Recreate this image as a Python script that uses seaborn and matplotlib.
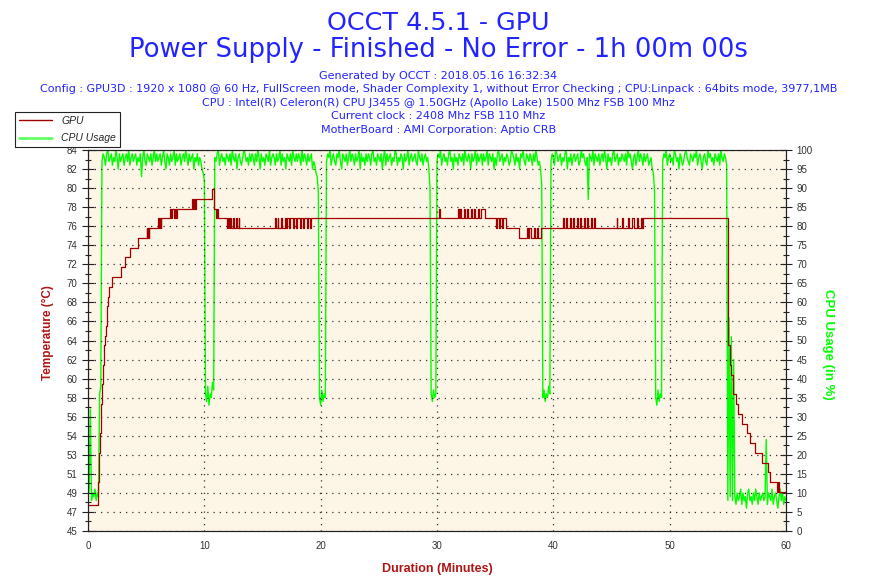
import numpy as np
import matplotlib
matplotlib.use("Agg")
import matplotlib.pyplot as plt
import seaborn as sns
from matplotlib.ticker import FixedLocator, MultipleLocator
from matplotlib.lines import Line2D

# ---------------- text ----------------
title_main = "OCCT 4.5.1 - GPU"
title_sub = "Power Supply - Finished - No Error - 1h 00m 00s"
info_lines = [
    "Generated by OCCT : 2018.05.16 16:32:34",
    "Config : GPU3D : 1920 x 1080 @ 60 Hz, FullScreen mode, Shader Complexity 1, without Error Checking ; CPU:Linpack : 64bits mode, 3977,1MB",
    "CPU : Intel(R) Celeron(R) CPU J3455 @ 1.50GHz (Apollo Lake) 1500 Mhz FSB 100 Mhz",
    "Current clock : 2408 Mhz FSB 110 Mhz",
    "MotherBoard : AMI Corporation: Aptio CRB",
]
series_names = ["GPU", "CPU Usage"]
x_label = "Duration (Minutes)"
left_label = "Temperature (°C)"
right_label = "CPU Usage (in %)"

# tick labels
x_ticks = [0, 10, 20, 30, 40, 50, 60]
temp_tick_labels = ["45", "47", "49", "51", "53", "54", "56", "58", "60", "62", "64",
                    "66", "68", "70", "72", "74", "76", "78", "80", "82", "84"]
cpu_ticks = [0, 5, 10, 15, 20, 25, 30, 35, 40, 45, 50, 55, 60, 65, 70, 75, 80, 85, 90, 95, 100]

# ---------------- data ----------------
# GPU temperature (step series: minute, degC)
gpu_minutes = [0.0, 0.85, 0.92, 1.0, 1.08, 1.16, 1.23, 1.3, 1.38, 1.45, 1.52, 1.6, 1.66, 1.73, 1.8,
               2.09, 2.81, 3.18, 3.61, 4.33,
               5.04, 5.1, 5.17, 5.22, 5.28,
               6.05, 6.12, 6.2, 6.26, 6.3,
               7.05, 7.15, 7.25, 7.35, 7.45, 7.55, 7.65,
               8.91, 9.0, 9.1, 9.2, 9.28,
               10.63, 10.84, 11.0, 11.1, 11.2,
               11.92, 12.0, 12.1, 12.2, 12.3, 12.45, 12.55, 12.7, 12.8, 12.95, 13.0,
               16.07, 16.12, 16.3, 16.35, 16.6, 16.7, 16.9, 17.0, 17.1, 17.3, 17.4, 17.6, 17.7,
               17.9, 18.0, 18.2, 18.3, 18.5, 18.6, 18.8, 18.9, 19.1, 19.2,
               30.2, 30.26,
               31.83, 31.9, 32.0, 32.1, 32.3, 32.4, 32.6, 32.7, 32.9, 33.0, 33.2, 33.3, 33.5,
               33.6, 33.8, 34.1,
               35.07, 35.15, 35.3, 35.4, 35.6, 35.7, 35.9,
               37.07,
               37.71, 37.8, 37.95, 38.1, 38.3, 38.4, 38.6, 38.7, 38.9,
               40.85, 40.95, 41.1, 41.2, 41.4, 41.5, 41.7, 41.8, 42.0, 42.1, 42.3, 42.4, 42.6,
               42.7, 42.9, 43.0, 43.2, 43.3, 43.5, 43.6,
               45.44, 45.5, 45.9, 45.95, 46.4, 46.5, 46.8, 46.9, 47.2, 47.3, 47.5, 47.6, 47.73,
               55.03, 55.15, 55.3, 55.47, 55.67, 55.85, 56.19, 56.62, 56.9, 57.33, 57.91,
               58.43, 58.63, 59.2, 59.3, 59.4, 60.0]
gpu_temp = [47.7, 50, 53, 55, 57, 58, 60, 62, 64, 65, 66, 67, 68, 69, 70,
            71, 72, 73, 74, 75,
            76, 75, 76, 75, 76,
            77, 76, 77, 76, 77,
            78, 77, 78, 77, 78, 77, 78,
            79, 78, 79, 78, 79,
            80, 78, 77, 78, 77,
            76, 77, 76, 77, 76, 77, 76, 77, 76, 77, 76,
            77, 76, 77, 76, 77, 76, 77, 76, 77, 76, 77, 76, 77,
            76, 77, 76, 77, 76, 77, 76, 77, 76, 77,
            78, 77,
            78, 77, 78, 77, 78, 77, 78, 77, 78, 77, 78, 77, 78,
            77, 78, 77,
            76, 77, 76, 77, 76, 77, 76,
            75,
            76, 75, 76, 75, 76, 75, 76, 75, 76,
            77, 76, 77, 76, 77, 76, 77, 76, 77, 76, 77, 76, 77,
            76, 77, 76, 77, 76, 77, 76,
            77, 76, 77, 76, 77, 76, 77, 76, 77, 76, 77, 76, 77,
            64, 62, 61, 59, 58, 57, 56, 55, 54, 53, 52,
            51, 50, 49, 50, 49, 49]

# CPU usage (%), one reading every 0.1 minute from 0 to 60 (one row = 2 minutes)
cpu_step_minutes = 0.1
cpu_usage = [
    9, 11, 32, 8, 10, 9, 11, 8, 10, 9, 36, 38, 97, 99, 98, 96, 99, 100, 97, 98,
    99, 96, 98, 97, 100, 98, 95, 99, 97, 98, 99, 96, 98, 99, 97, 100, 96, 98, 99, 97,
    98, 99, 96, 98, 97, 99, 93, 98, 100, 97, 96, 99, 98, 97, 99, 96, 98, 100, 97, 99,
    97, 98, 99, 96, 98, 100, 97, 95, 99, 98, 96, 99, 97, 98, 100, 96, 99, 97, 98, 99,
    96, 98, 99, 97, 100, 98, 96, 99, 97, 98, 99, 95, 98, 97, 99, 96, 98, 97, 95, 94,
    92, 36, 34, 38, 33, 36, 35, 39, 37, 98, 97, 99, 100, 96, 98, 99, 97, 98, 96, 99,
    98, 97, 99, 96, 100, 98, 97, 99, 95, 98, 99, 97, 96, 98, 100, 99, 97, 98, 96, 99,
    97, 99, 98, 96, 99, 97, 100, 98, 95, 99, 97, 98, 96, 99, 98, 97, 100, 96, 98, 99,
    98, 96, 99, 97, 98, 100, 96, 99, 97, 98, 95, 99, 98, 97, 99, 96, 100, 98, 97, 99,
    97, 99, 98, 96, 100, 97, 99, 98, 96, 99, 97, 98, 99, 95, 97, 96, 94, 93, 89, 35,
    33, 37, 34, 36, 35, 97, 99, 98, 100, 96, 98, 99, 97, 96, 99, 98, 100, 97, 95, 99,
    98, 97, 99, 96, 98, 100, 97, 99, 98, 96, 99, 97, 98, 100, 95, 99, 97, 98, 96, 99,
    97, 99, 98, 96, 99, 100, 97, 98, 96, 99, 98, 97, 99, 95, 98, 100, 96, 99, 97, 98,
    99, 96, 98, 97, 100, 99, 96, 98, 97, 99, 98, 95, 99, 97, 98, 100, 96, 98, 99, 97,
    98, 99, 97, 96, 100, 98, 97, 99, 96, 98, 99, 97, 98, 95, 90, 36, 34, 37, 35, 36,
    97, 99, 98, 100, 96, 98, 99, 97, 98, 96, 99, 100, 97, 98, 95, 99, 97, 98, 96, 99,
    98, 97, 99, 96, 100, 98, 97, 99, 98, 95, 99, 97, 98, 100, 96, 99, 97, 98, 99, 96,
    99, 97, 98, 100, 96, 99, 98, 97, 99, 95, 98, 96, 99, 100, 97, 98, 99, 96, 98, 97,
    99, 98, 96, 97, 100, 99, 98, 96, 99, 97, 98, 95, 99, 98, 100, 97, 96, 99, 98, 97,
    99, 98, 96, 99, 97, 100, 98, 96, 97, 95, 91, 35, 37, 34, 36, 35, 38, 36, 97, 99,
    98, 96, 100, 99, 97, 98, 99, 96, 98, 97, 99, 100, 95, 98, 97, 99, 96, 98, 99, 97,
    98, 99, 96, 97, 100, 98, 99, 97, 96, 98, 87, 99, 98, 97, 100, 96, 99, 98, 97, 99,
    96, 98, 99, 97, 100, 98, 95, 99, 97, 98, 96, 99, 100, 97, 98, 99, 96, 98, 97, 99,
    98, 97, 99, 96, 100, 98, 99, 97, 95, 98, 99, 96, 98, 100, 97, 99, 98, 96, 99, 97,
    98, 99, 96, 97, 98, 95, 94, 89, 35, 33, 37, 34, 36, 35, 97, 99, 98, 100, 96, 98,
    99, 97, 98, 96, 100, 99, 97, 98, 95, 99, 98, 96, 97, 99, 100, 98, 97, 96, 99, 98,
    97, 99, 98, 100, 96, 98, 99, 97, 95, 98, 99, 97, 96, 100, 98, 99, 97, 98, 96, 99,
    98, 97, 99, 96, 100, 98, 97, 99, 98, 96, 8, 56, 9, 51, 8, 45, 9, 7, 10, 8,
    9, 11, 7, 10, 8, 9, 6, 10, 11, 8, 9, 7, 10, 8, 11, 9, 7, 10, 8, 9,
    10, 8, 9, 24, 7, 10, 9, 8, 11, 7, 9, 10, 8, 6, 9, 11, 8, 10, 7, 9,
    8,
]
cpu_minutes = np.arange(len(cpu_usage)) * cpu_step_minutes

# ---------------- style ----------------
sns.set_style("white")
plt.rcParams["font.family"] = ["Liberation Sans", "DejaVu Sans"]

BLUE = "#2323ff"
RED = "#a00000"
LABEL_RED = "#b01515"
GREEN = "#00ff00"
BG = "#fdf5e6"
SPINE = "#222222"

W, H = 877, 585
fig = plt.figure(figsize=(W / 100, H / 100), dpi=100)
fig.patch.set_facecolor("white")

L, R, T, B = 88, 786, 150, 531
ax = fig.add_axes([L / W, 1 - B / H, (R - L) / W, (B - T) / H])
ax2 = ax.twinx()

# CPU usage on right axis (drawn below), GPU on left axis (on top)
sns.lineplot(x=cpu_minutes, y=cpu_usage, ax=ax2, color=GREEN, linewidth=1.0,
             estimator=None, sort=False, errorbar=None, legend=False)
sns.lineplot(x=gpu_minutes, y=gpu_temp, ax=ax, color=RED, linewidth=0.9,
             drawstyle="steps-post", estimator=None, sort=False, errorbar=None, legend=False)

ax.set_zorder(ax2.get_zorder() + 1)
ax.patch.set_visible(False)
ax2.patch.set_visible(True)
ax2.patch.set_facecolor(BG)

ax.set_xlim(0, 60)
ax.set_ylim(45, 84)
ax2.set_ylim(0, 100)

temp_pos = np.linspace(45, 84, len(temp_tick_labels))
ax.yaxis.set_major_locator(FixedLocator(temp_pos))
ax.set_yticklabels(temp_tick_labels)
ax.yaxis.set_minor_locator(FixedLocator(np.linspace(45, 84, 2 * len(temp_tick_labels) - 1)))

ax2.set_yticks(cpu_ticks)
ax2.set_yticklabels([str(v) for v in cpu_ticks])
ax2.yaxis.set_minor_locator(MultipleLocator(2.5))

ax.set_xticks(x_ticks)
ax.set_xticklabels([str(v) for v in x_ticks])
ax.xaxis.set_minor_locator(MultipleLocator(2))

for a in (ax, ax2):
    a.tick_params(which="major", direction="inout", length=9, width=0.8, color=SPINE,
                  labelsize=7, labelcolor="#333333", pad=3)
    a.tick_params(which="minor", direction="inout", length=5, width=0.8, color=SPINE)
    for s in a.spines.values():
        s.set_color(SPINE)
        s.set_linewidth(0.8)
        s.set_visible(True)

ax.grid(True, which="major", axis="both", color="#333333", linestyle=(0, (1, 4)), linewidth=0.9)
ax.set_axisbelow(True)

ax.set_xlabel(x_label, color=LABEL_RED, fontweight="bold", fontsize=9)
ax.xaxis.set_label_coords(0.5, -0.085)
ax.set_ylabel(left_label, color=LABEL_RED, fontweight="bold", fontsize=8.5)
ax.yaxis.set_label_coords(-0.048, 0.52)
ax2.set_ylabel(right_label, color=GREEN, fontweight="bold", fontsize=9.5, rotation=-90,
               va="center")
ax2.yaxis.set_label_coords(1.06, 0.49)

# titles
TFONT = ["DejaVu Sans"]
fig.text(0.5, 1 - 30 / H, title_main, ha="center", va="baseline", color=BLUE,
         fontsize=18.3, family=TFONT)
fig.text(0.5, 1 - 57 / H, title_sub, ha="center", va="baseline", color=BLUE,
         fontsize=18.6, family=TFONT)
for i, line in enumerate(info_lines):
    fig.text(0.5, 1 - (79 + 13.5 * i) / H, line, ha="center", va="baseline",
             color=BLUE, fontsize=8, family=TFONT)

# legend
handles = [Line2D([0], [0], color=RED, lw=1), Line2D([0], [0], color="#66ff66", lw=2)]
leg = fig.legend(handles, series_names, loc="upper left",
                 bbox_to_anchor=(15 / W, 1 - 112 / H), frameon=True, fancybox=False,
                 edgecolor="#222222", framealpha=1, borderpad=0.35, labelspacing=0.75,
                 handlelength=3.2, handletextpad=0.9, borderaxespad=0,
                 prop={"style": "italic", "size": 7.5})
leg.get_frame().set_linewidth(0.8)

fig.savefig("out.png", dpi=100)
